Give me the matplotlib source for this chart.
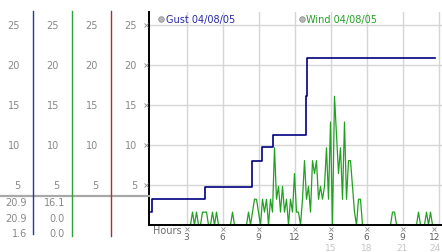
import matplotlib
matplotlib.use("Agg")
import matplotlib.pyplot as plt
import numpy as np

plt.rcParams['font.family'] = ['DejaVu Sans']

# gust (km/h), step changes over the day
gust_hours = [0, 0.12, 4.5, 8.43, 9.33, 10.2, 12.96, 13.0, 23.7]
gust_kmh = [1.6, 3.2, 4.8, 8.0, 9.7, 11.3, 16.1, 20.9, 20.9]

# wind, one reading every 10 minutes, in mph (converted below)
wind_mph = [
    0, 0, 0, 0, 0, 0, 0, 0, 0, 0, 0, 0, 0, 0, 0, 0, 0, 0, 0, 0,
    0, 1, 0, 1, 0, 0, 1, 1, 1, 0, 0, 1, 0, 1, 0, 0, 0, 0, 0, 0,
    0, 1, 0, 0, 0, 0, 0, 0, 0, 1, 0, 1, 2, 2, 1, 0, 2, 1, 2, 0,
    2, 1, 6, 2, 3, 1, 3, 1, 2, 0, 2, 1, 4, 1, 1, 0, 2, 5, 2, 3,
    1, 5, 4, 5, 2, 3, 2, 3, 6, 2, 8, 0, 10, 7, 4, 6, 2, 8, 2, 5,
    5, 3, 1, 0, 2, 2, 0, 0, 0, 0, 0, 0, 0, 0, 0, 0, 0, 0, 0, 0,
    0, 1, 1, 0, 0, 0, 0, 0, 0, 0, 0, 0, 0, 0, 1, 0, 0, 0, 1, 0,
    1, 0, 0, 0, 0,
]
MPH_TO_KMH = 1.609
wind_kmh = [v * MPH_TO_KMH for v in wind_mph]
wind_hours = [i / 6 for i in range(len(wind_mph))]

# summary values shown in the left panel
gust_summary = ['20.9', '20.9', '1.6']
wind_summary = ['16.1', '0.0', '0.0']

y_ticks = [5, 10, 15, 20, 25]
x_ticks = [3, 6, 9, 12, 15, 18, 21, 24]
x_labels = ['3', '6', '9', '12', '3', '6', '9', '12']
x_labels_24 = ['15', '18', '21', '24']

W, H = 442, 253
fig = plt.figure(figsize=(W / 100, H / 100), dpi=100)

top_px, zero_px, left_px = 13, 226, 149
ymax = (zero_px - top_px) / 8
ax = fig.add_axes([left_px / W, (H - zero_px) / H, (W - left_px) / W, (zero_px - top_px) / H])
ax.set_ylim(0, ymax)
ax.set_xlim((left_px - 150.5) / 12, (W - 150.5) / 12)

for s in ['top', 'right']:
    ax.spines[s].set_visible(False)
ax.spines['left'].set_color('black')
ax.spines['bottom'].set_color('black')
ax.spines['left'].set_linewidth(1.4)
ax.spines['bottom'].set_linewidth(1.4)
ax.set_xticks([])
ax.set_yticks([])

grid_c = '#d6d6d6'
for y in y_ticks:
    ax.axhline(y, color=grid_c, lw=1.0, zorder=0)
for x in x_ticks:
    ax.axvline(x, color=grid_c, lw=1.0, zorder=0)

ax.plot(wind_hours, wind_kmh, color='#22a022', lw=0.9, zorder=2, clip_on=False)
ax.step(gust_hours, gust_kmh, where='post', color='#000080', lw=1.2, zorder=3)

# legend entries
ax.plot([0.875], [25.75], 'o', ms=4, mfc='#b8b8b8', mec='#909090', mew=0.6, clip_on=False)
ax.text(1.3, 25.75, 'Gust 04/08/05', color='#2828a8', fontsize=7, va='center', ha='left')
ax.plot([12.6], [25.75], 'o', ms=4, mfc='#b8b8b8', mec='#909090', mew=0.6, clip_on=False)
ax.text(12.96, 25.75, 'Wind 04/08/05', color='#22a022', fontsize=7, va='center', ha='left')

# x axis labels
ax.text(0.2, -0.62, 'Hours', color='#707070', fontsize=7, va='center', ha='left', clip_on=False)
for x, lab in zip(x_ticks, x_labels):
    xp = x if x < 24 else 23.65
    ax.plot([xp], [-0.45], 'x', ms=2.2, mew=0.6, color='#909090', clip_on=False)
    if x < 24:
        ax.text(x, -1.5, lab, color='#606060', fontsize=6.5, ha='center', va='center', clip_on=False)
    else:
        ax.text(24.15, -1.5, lab, color='#606060', fontsize=6.5, ha='right', va='center', clip_on=False)
for x, lab in zip(x_ticks[4:], x_labels_24):
    if x < 24:
        ax.text(x, -2.8, lab, color='#c4c4c4', fontsize=6.5, ha='center', va='center', clip_on=False)
    else:
        ax.text(24.15, -2.8, lab, color='#c4c4c4', fontsize=6.5, ha='right', va='center', clip_on=False)

# left panel with scale columns
lax = fig.add_axes([0, (H - zero_px) / H, left_px / W, (zero_px - top_px) / H])
lax.set_xlim(0, left_px)
lax.set_ylim(0, ymax)
lax.axis('off')

col_lines = [(33, '#2838a0', -1.1), (72, '#30a030', -1.4), (111, '#a83030', -1.4)]
for x, c, yb in col_lines:
    lax.plot([x, x], [yb, ymax + 0.1], color=c, lw=1.0, clip_on=False)
lax.plot([0, left_px], [3.62, 3.62], color='#a8a8a8', lw=1.6, clip_on=False, zorder=1)

for xr in [20, 59, 98, 137]:
    for y in y_ticks:
        lax.text(xr, y, str(y), color='#888888', fontsize=7, ha='right', va='center')
for y in y_ticks:
    lax.plot([145.5], [y], 'x', ms=2.2, mew=0.6, color='#909090', clip_on=False)

for yv, g, w in zip([2.875, 0.875, -0.94], gust_summary, wind_summary):
    lax.text(27, yv, g, color='#888888', fontsize=7, ha='right', va='center', clip_on=False)
    lax.text(65, yv, w, color='#888888', fontsize=7, ha='right', va='center', clip_on=False)

fig.savefig('out.png', dpi=100)
